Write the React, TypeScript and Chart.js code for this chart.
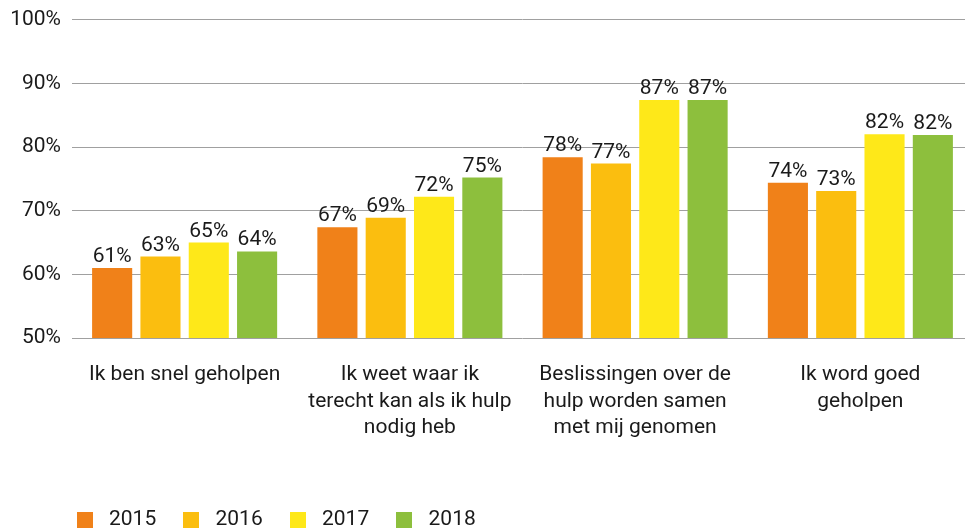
import React, { useEffect, useRef } from "react";
import { Chart, registerables } from "chart.js";

Chart.register(...registerables);

const categories: string[][] = [
  ["Ik ben snel geholpen"],
  ["Ik weet waar ik", "terecht kan als ik hulp", "nodig heb"],
  ["Beslissingen over de", "hulp worden samen", "met mij genomen"],
  ["Ik word goed", "geholpen"],
];

const seriesNames = ["2015", "2016", "2017", "2018"];
const values2015 = [61.0, 67.4, 78.4, 74.4];
const values2016 = [62.8, 68.9, 77.4, 73.1];
const values2017 = [65.0, 72.2, 87.4, 82.0];
const values2018 = [63.6, 75.2, 87.4, 81.9];
const seriesColors = ["#F08119", "#FBBE0F", "#FEE819", "#8DBF3D"];
const yTicks = [50, 60, 70, 80, 90, 100];

const FONT = "Roboto";
const TEXT = "#1a1a1a";
const PAD_LEFT = 49.7;
const PLOT_LEFT = 72;

function makeSwatch(color: string): HTMLCanvasElement {
  const c = document.createElement("canvas");
  c.width = 16;
  c.height = 16;
  const g = c.getContext("2d")!;
  g.fillStyle = color;
  g.fillRect(0, 0, 16, 16);
  return c;
}

const valueLabels = {
  id: "valueLabels",
  afterDatasetsDraw(chart: any) {
    const ctx = chart.ctx;
    ctx.save();
    ctx.font = `21px ${FONT}`;
    ctx.fillStyle = TEXT;
    ctx.textAlign = "center";
    ctx.textBaseline = "alphabetic";
    chart.data.datasets.forEach((ds: any, i: number) => {
      const meta = chart.getDatasetMeta(i);
      meta.data.forEach((bar: any, j: number) => {
        ctx.fillText(Math.round(ds.data[j]) + "%", bar.x, bar.y - 6);
      });
    });
    ctx.restore();
  },
};

// let the y-axis labels extend left of the (narrow) axis box without being clipped
const unclipYLabels = {
  id: "unclipYLabels",
  afterLayout(chart: any) {
    const y = chart.scales.y;
    if (y) y.left = 0;
  },
};

export default function App() {
  const ref = useRef<HTMLCanvasElement | null>(null);

  useEffect(() => {
    if (!ref.current) return;
    const all = [values2015, values2016, values2017, values2018];
    const swatches = seriesColors.map(makeSwatch);
    const chart = new Chart(ref.current, {
      type: "bar",
      data: {
        labels: categories as any,
        datasets: all.map((vals, i) => ({
          label: seriesNames[i],
          data: vals,
          backgroundColor: seriesColors[i],
          borderWidth: 0,
          categoryPercentage: 0.858,
          barPercentage: 0.83,
        })),
      },
      options: {
        animation: false,
        responsive: true,
        maintainAspectRatio: false,
        layout: { padding: { top: 19.7, left: PAD_LEFT, right: 2, bottom: 0 } },
        plugins: {
          tooltip: { enabled: false },
          legend: {
            position: "bottom",
            align: "start",
            maxHeight: 40,
            labels: {
              usePointStyle: true,
              pointStyleWidth: 27.6,
              padding: 21.2,
              color: TEXT,
              font: { family: FONT, size: 21 },
              generateLabels: (c: any) => {
                const items = (Chart.defaults.plugins.legend.labels as any).generateLabels(c);
                return items.map((it: any, i: number) => ({ ...it, pointStyle: swatches[i] }));
              },
            },
          },
        },
        scales: {
          x: {
            grid: { display: false },
            border: { display: false },
            afterFit: (s: any) => {
              s.height = 150;
            },
            ticks: {
              color: TEXT,
              padding: 16,
              font: { family: FONT, size: 21, lineHeight: 1.25 },
              maxRotation: 0,
              autoSkip: false,
            },
          },
          y: {
            min: 50,
            max: 100,
            afterFit: (s: any) => {
              s.width = PLOT_LEFT - PAD_LEFT;
            },
            afterBuildTicks: (s: any) => {
              s.ticks = yTicks.map((v) => ({ value: v }));
            },
            grid: { color: "#A0A0A0", lineWidth: 1, drawTicks: false },
            border: { display: false },
            ticks: {
              color: TEXT,
              padding: 11,
              font: { family: FONT, size: 21, lineHeight: 0.5 },
              callback: (v: any) => v + "%",
            },
          },
        },
      },
      plugins: [valueLabels, unclipYLabels],
    });
    return () => chart.destroy();
  }, []);

  return (
    <div style={{ position: "fixed", left: 0, top: 0, width: 975, height: 528 }}>
      <canvas ref={ref} />
    </div>
  );
}
